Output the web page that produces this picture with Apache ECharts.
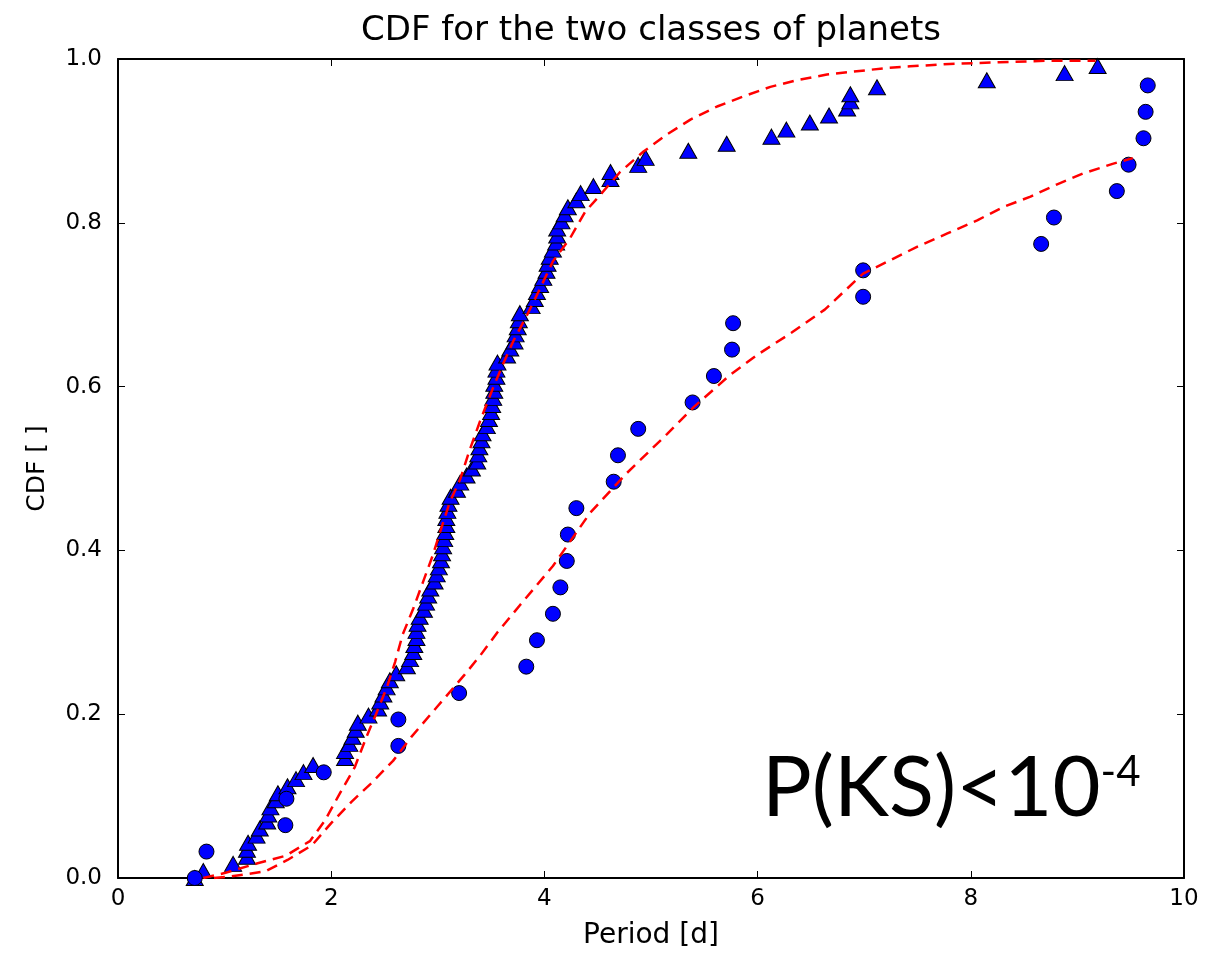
<!DOCTYPE html>
<html>
<head>
<meta charset="utf-8">
<script src="https://cdn.jsdelivr.net/npm/echarts@6/dist/echarts.min.js"></script>
<style>
html,body{margin:0;padding:0;background:#fff;}
#chart{width:1227px;height:955px;}
</style>
</head>
<body>
<div id="chart"></div>
<script>
// Sorted periods [d] of the two planet classes
const trianglePeriods = [0.72,0.80,1.08,1.21,1.21,1.22,1.30,1.33,1.40,1.41,1.43,1.48,1.50,1.59,1.67,1.74,1.83,
  2.13,2.13,2.17,2.20,2.23,2.25,2.35,2.44,2.46,2.49,2.52,2.55,2.61,2.71,2.74,2.77,2.78,2.80,2.80,2.81,
  2.83,2.87,2.89,2.91,2.93,2.97,2.99,3.01,3.03,3.04,
  3.05,3.06,3.07,3.08,3.08,3.09,3.10,3.12,3.18,3.21,3.27,3.32,3.37,3.38,3.39,3.41,3.42,
  3.46,3.48,3.50,3.51,3.52,3.53,3.53,3.55,3.55,3.56,3.65,3.68,3.72,3.73,3.75,3.76,3.77,
  3.88,3.91,3.93,3.96,3.99,4.02,4.03,4.05,4.08,4.11,4.12,4.12,4.16,4.19,4.22,4.30,4.34,
  4.46,4.62,4.62,4.88,4.95,5.35,5.71,6.13,6.27,6.49,6.67,6.84,6.87,6.87,7.12,8.15,8.88,9.19];
const circlePeriods = [0.72,0.83,1.57,1.58,1.93,2.63,2.63,3.20,3.83,3.93,4.08,4.15,4.21,4.22,4.30,
  4.65,4.69,4.88,5.39,5.59,5.76,5.77,6.99,6.99,8.66,8.78,9.37,9.48,9.62,9.64,9.66];

// Model CDF curves (dashed red), [period, cdf]
const modelA = [[0.80,0],[1.0,0.006],[1.31,0.018],[1.57,0.027],[1.80,0.045],[1.94,0.07],[2.08,0.103],
  [2.22,0.135],[2.33,0.172],[2.42,0.20],[2.52,0.232],[2.60,0.264],[2.67,0.297],[2.77,0.329],[2.86,0.361],
  [2.95,0.393],[3.04,0.43],[3.11,0.458],[3.21,0.487],[3.30,0.523],[3.40,0.559],[3.52,0.599],[3.61,0.627],
  [3.71,0.656],[3.84,0.688],[3.96,0.720],[4.08,0.753],[4.24,0.781],[4.38,0.813],[4.55,0.838],[4.71,0.862],
  [4.93,0.887],[5.15,0.908],[5.37,0.926],[5.62,0.942],[5.86,0.954],[6.12,0.966],[6.40,0.975],[6.65,0.981],
  [6.93,0.985],[7.21,0.989],[7.43,0.991],[7.80,0.994],[8.27,0.996],[8.74,0.998],[9.17,0.998]];
const modelB = [[0.90,0],[1.06,0.002],[1.38,0.008],[1.59,0.022],[1.82,0.04],[2.0,0.067],[2.19,0.093],
  [2.37,0.115],[2.58,0.143],[2.75,0.172],[3.0,0.21],[3.25,0.248],[3.40,0.272],[3.56,0.30],[3.77,0.333],
  [4.08,0.381],[4.43,0.446],[4.77,0.494],[5.15,0.542],[5.40,0.575],[5.74,0.614],[6.0,0.639],[6.32,0.666],
  [6.63,0.694],[6.99,0.738],[7.24,0.754],[7.5,0.771],[7.78,0.787],[8.06,0.803],[8.30,0.819],[8.56,0.832],
  [8.81,0.847],[9.05,0.860],[9.33,0.872],[9.52,0.879]];

const xTicks = [0,2,4,6,8,10];
const yTicks = [0.0,0.2,0.4,0.6,0.8,1.0];

const titleText = 'CDF for the two classes of planets';
const xName = 'Period [d]';
const yName = 'CDF [ ]';

// empirical CDF: rank / count
const triData = trianglePeriods.map((p, i) => [p, i / trianglePeriods.length]);
const circData = circlePeriods.map((p, i) => [p, i / circlePeriods.length]);

const FONT = 'DejaVu Sans';
const chart = echarts.init(document.getElementById('chart'));

const tickStyle = {inside: true, length: 7, lineStyle: {color: '#000', width: 1}};
const lineStyleAxis = {show: true, onZero: false, lineStyle: {color: '#000', width: 2}};

chart.setOption({
  animation: false,
  backgroundColor: '#fff',
  grid: {left: 118, top: 59, width: 1066, height: 826},
  xAxis: [{
    type: 'value', min: xTicks[0], max: xTicks[xTicks.length - 1], interval: 2,
    position: 'bottom',
    name: xName, nameLocation: 'middle', nameGap: 44,
    nameTextStyle: {fontFamily: FONT, fontSize: 28, color: '#000'},
    axisLine: lineStyleAxis, axisTick: tickStyle,
    axisLabel: {fontFamily: FONT, fontSize: 23, color: '#000', margin: 10},
    splitLine: {show: false}
  }, {
    type: 'value', min: 0, max: 10, interval: 2, position: 'top',
    axisLine: lineStyleAxis, axisTick: tickStyle,
    axisLabel: {show: false}, splitLine: {show: false}
  }],
  yAxis: [{
    type: 'value', min: yTicks[0], max: yTicks[yTicks.length - 1], interval: 0.2,
    position: 'left',
    name: yName, nameLocation: 'middle', nameGap: 68, nameRotate: 90,
    nameTextStyle: {fontFamily: FONT, fontSize: 25, color: '#000'},
    axisLine: lineStyleAxis, axisTick: tickStyle,
    axisLabel: {fontFamily: FONT, fontSize: 23, color: '#000', margin: 16,
      formatter: v => v.toFixed(1)},
    splitLine: {show: false}
  }, {
    type: 'value', min: 0, max: 1, interval: 0.2, position: 'right',
    axisLine: lineStyleAxis, axisTick: tickStyle,
    axisLabel: {show: false}, splitLine: {show: false}
  }],
  series: [
    {
      type: 'scatter', data: triData, symbol: 'triangle', symbolSize: [17, 15],
      itemStyle: {color: '#0000ff', borderColor: '#000', borderWidth: 1, opacity: 1},
      z: 2
    },
    {
      type: 'scatter', data: circData, symbol: 'circle', symbolSize: 15,
      itemStyle: {color: '#0000ff', borderColor: '#000', borderWidth: 1, opacity: 1},
      z: 3
    },
    {
      type: 'line', data: modelA, showSymbol: false, symbol: 'none',
      lineStyle: {color: '#ff0000', width: 2.5, type: [11, 7]}, z: 4
    },
    {
      type: 'line', data: modelB, showSymbol: false, symbol: 'none',
      lineStyle: {color: '#ff0000', width: 2.5, type: [11, 7]}, z: 4
    }
  ],
  graphic: [{
    type: 'text', x: 651, y: 31, z: 10,
    style: {
      text: titleText, fontFamily: FONT, fontSize: 34, fill: '#000',
      align: 'center', verticalAlign: 'middle'
    }
  }, {
    type: 'text', left: 762, top: 748, z: 10,
    style: {
      text: '{m|P(KS)<10}{s|-4}',
      rich: {
        m: {fontFamily: 'Lato', fontSize: 83, fill: '#000', verticalAlign: 'bottom'},
        s: {fontFamily: 'Lato', fontSize: 42, fill: '#000', padding: [0, 0, 38, 0], verticalAlign: 'bottom'}
      }
    }
  }]
});
</script>
</body>
</html>
